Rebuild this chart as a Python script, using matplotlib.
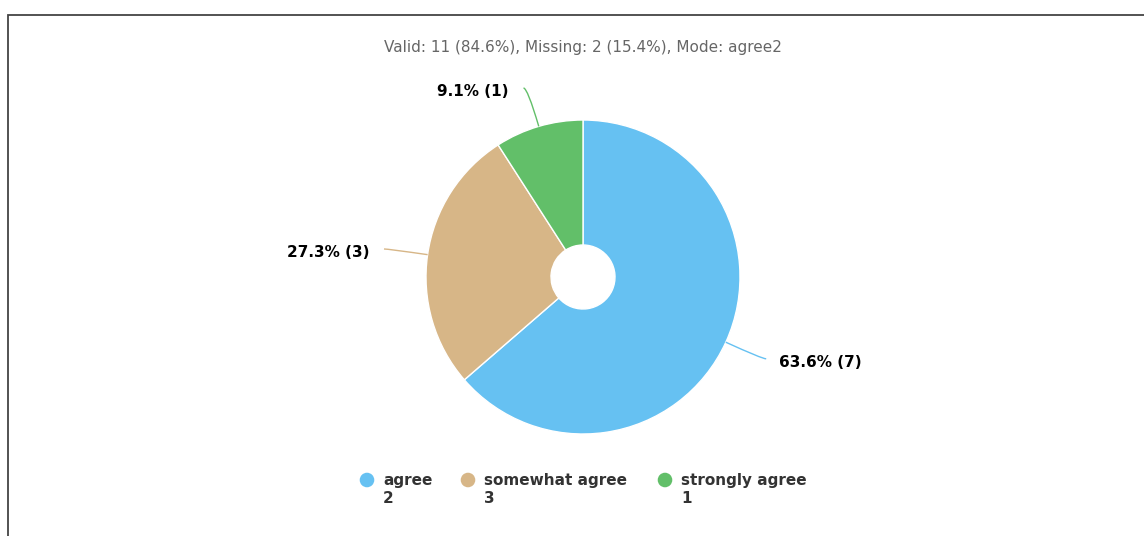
import numpy as np
import matplotlib
matplotlib.use('Agg')
import matplotlib.pyplot as plt
from matplotlib.path import Path
from matplotlib.patches import PathPatch

W, H = 1144, 536

categories = ['agree', 'somewhat agree', 'strongly agree']
codes = ['2', '3', '1']
counts = [7, 3, 1]
colors = ['#66C1F2', '#D7B687', '#62BF69']
title = 'Valid: 11 (84.6%), Missing: 2 (15.4%), Mode: agree2'

# layout in pixels (y measured from the top)
cx, cy = 583, 277
r_out, r_in = 157, 32
legend_x = [367, 468, 665]
legend_y = 480


def py(y):
    return H - y


fig = plt.figure(figsize=(W / 100, H / 100), dpi=100)
ax = fig.add_axes([0, 0, 1, 1])

wedges, _ = ax.pie(counts, colors=colors, startangle=90, counterclock=False,
                   center=(cx, py(cy)), radius=r_out,
                   wedgeprops=dict(width=r_out - r_in, edgecolor='white', linewidth=1))
ax.set_xlim(0, W)
ax.set_ylim(0, H)
ax.axis('off')

total = sum(counts)
for w, n, col in zip(wedges, counts, colors):
    theta = np.deg2rad((w.theta1 + w.theta2) / 2)
    d = np.array([np.cos(theta), np.sin(theta)])
    side = 1 if d[0] >= 0 else -1
    p0 = np.array([cx, py(cy)]) + r_out * d
    p1 = p0 + 40 * d
    p2 = p1 + np.array([4 * side, 0])
    path = Path([p0, p1, p2], [Path.MOVETO, Path.CURVE3, Path.CURVE3])
    ax.add_patch(PathPatch(path, fill=False, edgecolor=col, linewidth=1))
    pct = 100 * n / total
    gap = 13 if side > 0 else 15
    ax.text(p2[0] + gap * side, p2[1] - 3.5, f'{pct:.1f}% ({n})',
            ha='left' if side > 0 else 'right', va='center',
            fontsize=11, fontweight='bold', color='black')

ax.text(cx, py(47.5), title, ha='center', va='center', fontsize=11, color='#666666')

for x, cat, code, col in zip(legend_x, categories, codes, colors):
    ax.scatter([x], [py(legend_y)], s=110, color=col, edgecolors='none')
    ax.text(x + 16, py(legend_y - 7.5), f'{cat}\n{code}', ha='left', va='top',
            fontsize=11, fontweight='bold', color='#333333', linespacing=1.3)

# frame border (top and left only visible)
ax.plot([7.5, 7.5, W], [0, py(14.5), py(14.5)], color='#444444', linewidth=1.3,
        solid_joinstyle='miter', clip_on=False)

fig.savefig('out.png', dpi=100)
